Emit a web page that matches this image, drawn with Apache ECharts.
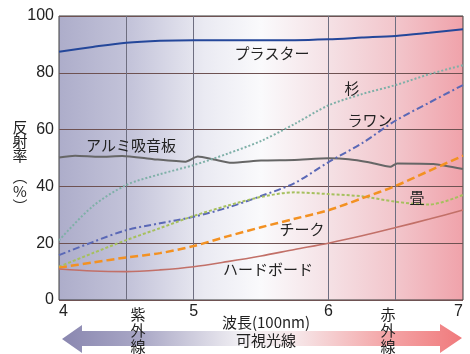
<!DOCTYPE html>
<html>
<head>
<meta charset="utf-8">
<script src="https://cdn.jsdelivr.net/npm/echarts@6/dist/echarts.min.js"></script>
<style>
  html, body { margin: 0; padding: 0; background: #fff; }
  #chart { width: 470px; height: 354px; }
</style>
</head>
<body>
<div id="chart"></div>
<script>
// 波長 (100nm)
const waves = [4, 4.25, 4.5, 4.75, 5, 5.25, 5.5, 5.75, 6, 6.25, 6.5, 6.75, 7];

// 反射率 (%)
const plaster = [87.4, 89.1, 90.6, 91.3, 91.5, 91.5, 91.5, 91.5, 91.8, 92.4, 93, 94.1, 95.3];
const sugi = [21, 33, 40.5, 44.3, 47.5, 51.5, 56, 62, 68.5, 72.5, 75.7, 79.5, 82.7];
const lauan = [15.8, 20.4, 24.6, 27, 29.3, 32.5, 36.6, 41.2, 48.5, 55.2, 63.2, 69.5, 75.7];
const tatami = [11.7, 16.5, 21.1, 25.3, 29.6, 33.2, 36.3, 37.9, 37.3, 36.5, 34.6, 33.6, 37];
const teak = [11.4, 13.2, 15, 16.5, 19, 22.4, 25.6, 28.6, 31.6, 35.8, 40.2, 45.5, 50.8];
const hardboard = [10.9, 10.2, 10, 10.6, 11.7, 13.5, 15.5, 17.8, 20, 22.6, 25.5, 28.5, 31.7];

// アルミ吸音板は細かく揺れるので別の波長点で
const alumiWaves = [4, 4.12, 4.3, 4.47, 4.7, 4.94, 5.03, 5.15, 5.28, 5.5, 5.75, 6, 6.15, 6.3, 6.46, 6.51, 6.78, 7];
const alumi = [50.2, 50.8, 50.4, 50.7, 49.6, 48.7, 50.5, 49.5, 48.3, 49.1, 49.3, 49.9, 49.6, 48.5, 46.9, 48.1, 47.9, 46.1];

const gridWaves = [4.5, 5, 6, 6.5];

const zip = (xs, ys) => xs.map((x, i) => [x, ys[i]]);

const JP = '"Noto Sans CJK JP", sans-serif';

const chart = echarts.init(document.getElementById('chart'));

const line = (name, data, color, type, width, smooth) => ({
  name,
  type: 'line',
  data,
  symbol: 'none',
  smooth: smooth,
  lineStyle: { color, type, width },
  z: 3,
});

const series = [
  line('プラスター', zip(waves, plaster), '#24479a', 'solid', 2, 0.3),
  line('アルミ吸音板', zip(alumiWaves, alumi), '#666', 'solid', 2, 0.2),
  line('杉', zip(waves, sugi), '#7fb0a8', [2, 2], 2, 0.3),
  line('ラワン', zip(waves, lauan), '#5a68b6', [7, 3, 2, 3], 2, 0.3),
  line('畳', zip(waves, tatami), '#a6c05e', [3, 2], 2, 0.3),
  line('チーク', zip(waves, teak), '#f39122', [8, 4], 2.5, 0.3),
  line('ハードボード', zip(waves, hardboard), '#c27068', 'solid', 1.6, 0.3),
];

// 縦のグリッド線
series[0].markLine = {
  silent: true,
  symbol: 'none',
  label: { show: false },
  lineStyle: { color: '#6e6e80', type: 'solid', width: 1 },
  data: gridWaves.map((w) => ({ xAxis: w })),
  z: 1,
};

const labelText = (text, x, y, size, lh) => ({
  type: 'text',
  x, y,
  style: {
    text,
    font: `${size || 15}px ${JP}`,
    lineHeight: lh || 16,
    fill: '#222',
    align: 'center',
    verticalAlign: 'middle',
  },
  z: 10,
});

const option = {
  animation: false,
  grid: {
    left: 59, right: 7, top: 16, bottom: 54,
    show: true,
    borderColor: '#3a3a3a',
    borderWidth: 1,
    backgroundColor: new echarts.graphic.LinearGradient(0, 0, 1, 0, [
      { offset: 0, color: '#adadca' },
      { offset: 0.18, color: '#c4c4da' },
      { offset: 0.36, color: '#eaeaf2' },
      { offset: 0.5, color: '#fafafc' },
      { offset: 0.66, color: '#f5e2e6' },
      { offset: 0.84, color: '#f2c4ca' },
      { offset: 1, color: '#f0a2aa' },
    ]),
  },
  xAxis: {
    type: 'value',
    min: 4, max: 7, interval: 1,
    axisLine: { show: false },
    axisTick: { show: false },
    splitLine: { show: false },
    axisLabel: {
      margin: 4,
      fontSize: 16,
      color: '#222',
      fontFamily: 'Liberation Sans, Arial, sans-serif',
      alignMinLabel: 'left',
      alignMaxLabel: 'right',
    },
  },
  yAxis: {
    type: 'value',
    min: 0, max: 100, interval: 20,
    axisLine: { show: false },
    axisTick: { show: false },
    splitLine: { lineStyle: { color: '#6e5252', width: 1 } },
    axisLabel: {
      margin: 5,
      fontSize: 16,
      color: '#222',
      fontFamily: 'Liberation Sans, Arial, sans-serif',
    },
  },
  series,
  graphic: [
    // 下の矢印
    {
      type: 'polygon',
      shape: {
        points: [
          [62, 339], [82, 325], [82, 331], [440, 331], [440, 324],
          [462, 338], [440, 353], [440, 346], [82, 346], [82, 353],
        ],
      },
      style: {
        fill: new echarts.graphic.LinearGradient(0, 0, 1, 0, [
          { offset: 0, color: '#8a87b0' },
          { offset: 0.2, color: '#aaa8c6' },
          { offset: 0.45, color: '#f2f0f4' },
          { offset: 0.58, color: '#f6e8ea' },
          { offset: 0.8, color: '#f4a8aa' },
          { offset: 1, color: '#f07a7c' },
        ]),
      },
      z: 1,
    },
    labelText('紫\n外\n線', 138, 330, 15, 16),
    labelText('赤\n外\n線', 388, 330, 15, 16),
    labelText('波長(100nm)', 266, 322, 15),
    labelText('可視光線', 266, 340, 15),
    labelText('反\n射\n率', 20, 141, 15, 14),
    labelText('︵\n%\n︶', 20, 191, 15, 15),
    labelText('プラスター', 272, 53, 15),
    labelText('杉', 352, 88, 15),
    labelText('ラワン', 370, 120, 15),
    labelText('アルミ吸音板', 131, 145, 15),
    labelText('畳', 417, 197, 15),
    labelText('チーク', 302, 229, 15),
    labelText('ハードボード', 268, 269, 15),
  ],
};

chart.setOption(option);
</script>
</body>
</html>
